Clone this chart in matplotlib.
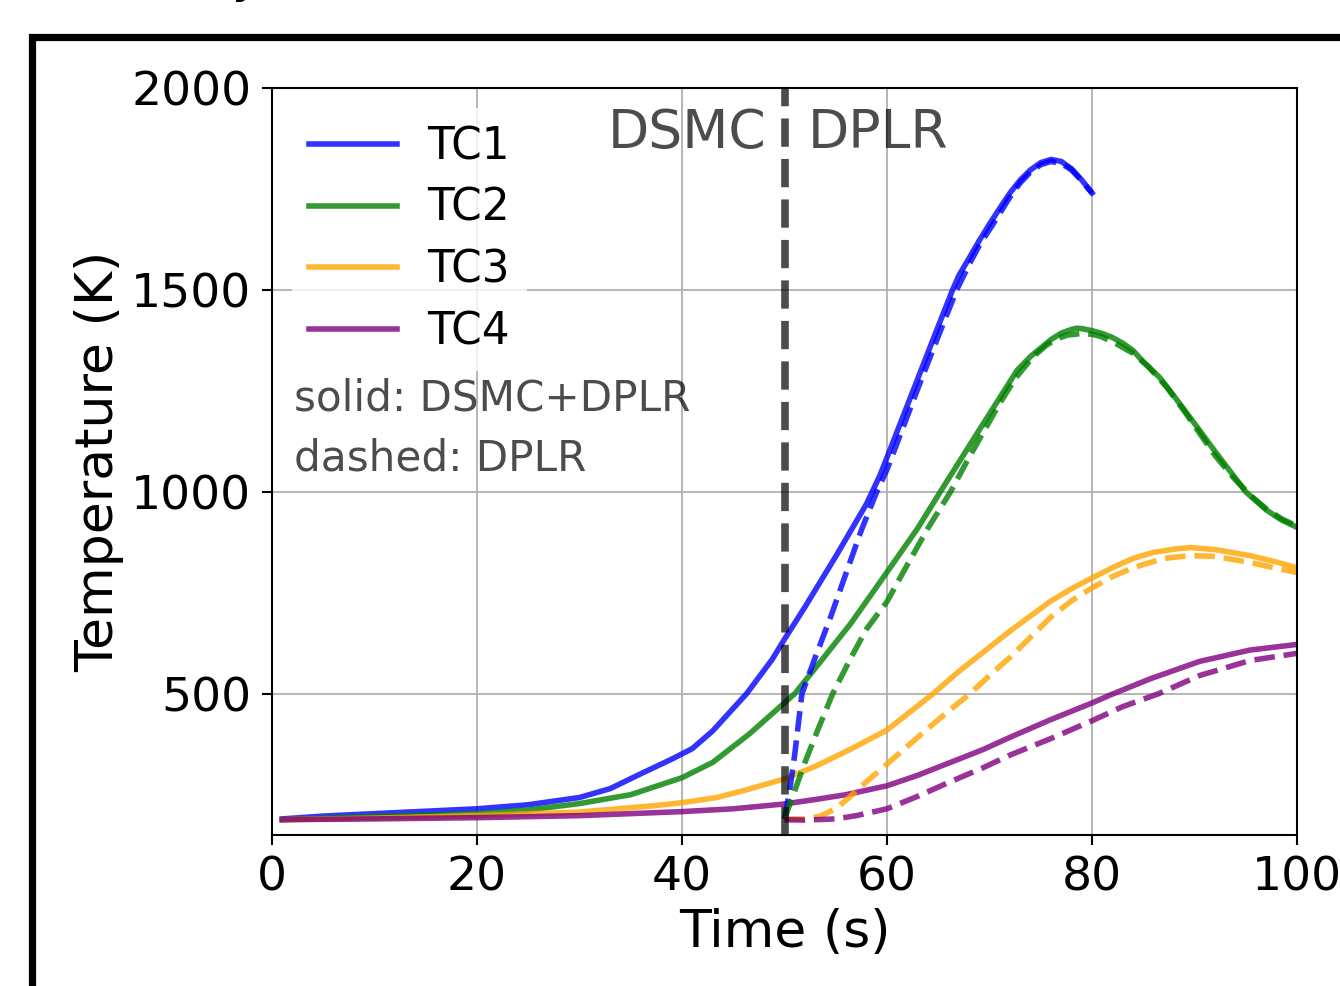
import matplotlib
matplotlib.use("Agg")
import matplotlib.pyplot as plt
from matplotlib.patches import Rectangle

# TC1 (blue)
tc1_x = [1, 5, 10, 15, 20, 25, 30, 33, 36, 39, 41, 43, 46.3, 48.8, 50, 52, 55, 58, 59.3, 60, 63, 65, 66.4,
         67, 68, 69, 70, 71, 72, 73, 74, 75, 76, 77, 78, 79, 80]
tc1_t = [190, 197, 203, 209, 215, 225, 243, 265, 302, 338, 364, 408, 500, 585, 635, 715, 840, 970, 1040, 1085, 1280, 1410, 1500,
         1535, 1578, 1622, 1663, 1702, 1740, 1772, 1797, 1815, 1823, 1818, 1800, 1772, 1740]
tc1_dx = [50, 50.5, 51, 51.7, 53, 54.5, 56.1, 57.5, 59, 60, 63, 65, 66.8, 68, 69, 70.4, 72, 73, 74, 75, 76, 77, 78, 79, 80]
tc1_dt = [190, 260, 350, 500, 590, 690, 805, 905, 1000, 1055, 1255, 1385, 1500, 1562, 1610, 1665, 1730, 1765, 1792, 1810, 1818, 1813, 1797, 1770, 1740]

# TC2 (green)
tc2_x = [1, 10, 20, 25, 30, 35, 40, 43, 46.6, 51, 53, 56.5, 60, 63, 65.2, 69.4, 72.7, 74, 75.2, 76, 77, 78, 78.5, 79,
         80, 81, 82, 83, 84, 85, 86.6, 88, 90.5, 92, 93.5, 95, 97, 98.5, 100]
tc2_t = [188, 196, 203, 212, 228, 250, 292, 330, 401, 500, 563, 675, 801, 910, 1000, 1169, 1301, 1335, 1360, 1377, 1393, 1402, 1405, 1404,
         1399, 1392, 1382, 1368, 1350, 1322, 1283, 1237, 1152, 1100, 1050, 1000, 955, 930, 912]
tc2_dx = [50, 51, 52, 53, 54.7, 56.5, 58, 60, 62, 64, 66.2, 68, 71, 72.5, 74.2, 75.5, 76.5, 77.6, 79, 80, 80.8, 82, 84, 85.5,
          87.3, 89, 90.5, 92, 93.8, 95.5, 97, 98.5, 100]
tc2_dt = [190, 260, 330, 395, 500, 590, 660, 728, 820, 910, 1000, 1085, 1219, 1280, 1333, 1362, 1378, 1388, 1392, 1390, 1385, 1372, 1343, 1310,
          1259, 1200, 1145, 1090, 1035, 990, 958, 933, 915]

# TC3 (orange)
tc3_x = [1, 10, 20, 30, 37, 40, 43.4, 46, 50, 53, 56.4, 60, 62, 64.5, 67, 69.4, 72, 75.9, 78, 80.1, 82, 84, 86, 88, 89.6, 92, 95.4, 98, 100]
tc3_t = [188, 192, 198, 207, 222, 230, 243, 260, 289, 320, 362, 410, 450, 500, 555, 603, 655, 728, 760, 788, 812, 835, 850, 858, 862, 857, 842, 826, 812]
tc3_dx = [50, 52, 53.5, 55, 56.4, 58, 60, 62, 64, 66, 68.1, 70, 72, 74, 76, 78, 80, 82, 84, 87, 89.6, 92, 95.4, 100]
tc3_dt = [190, 190, 197, 215, 245, 282, 326, 370, 414, 457, 500, 545, 590, 640, 690, 730, 762, 790, 812, 835, 842, 840, 825, 800]

# TC4 (purple)
tc4_x = [1, 10, 20, 30, 37, 40, 45, 50, 53, 56, 60, 63, 66, 69.4, 72, 75.9, 80, 81.8, 85.7, 90.5, 95.4, 100]
tc4_t = [188, 190, 193, 198, 205, 208, 215, 227, 238, 250, 272, 298, 328, 362, 392, 435, 477, 497, 537, 580, 608, 622]
tc4_dx = [50, 52, 55, 57, 60, 62.9, 66, 69.4, 72, 75.9, 80, 83, 86.5, 90.5, 95.4, 100]
tc4_dt = [188, 187, 190, 198, 215, 245, 280, 317, 348, 388, 433, 468, 500, 545, 582, 600]

labels = ["TC1", "TC2", "TC3", "TC4"]
colors = ["blue", "green", "orange", "purple"]

solid = [(tc1_x, tc1_t), (tc2_x, tc2_t), (tc3_x, tc3_t), (tc4_x, tc4_t)]
dashed = [(tc1_dx, tc1_dt), (tc2_dx, tc2_dt), (tc3_dx, tc3_dt), (tc4_dx, tc4_dt)]

fig = plt.figure(figsize=(13.4, 9.86), dpi=100)
ax = fig.add_axes([0.2030, 0.1531, 0.7649, 0.7577])

for (x, t), lab, c in zip(solid, labels, colors):
    ax.plot(x, t, color=c, alpha=0.8, lw=4, label=lab)
for (x, t), c in zip(dashed, colors):
    ax.plot(x, t, color=c, alpha=0.8, lw=4, ls="--")

ax.axvline(50, color="k", alpha=0.7, lw=5.5, ls="--")

ax.set_xlim(0, 100)
ax.set_ylim(150, 2000)
ax.set_xticks([0, 20, 40, 60, 80, 100])
ax.set_yticks([500, 1000, 1500, 2000])
ax.tick_params(labelsize=34, length=7, width=1.5, pad=8)
ax.grid(True, color="#b0b0b0", lw=1.3)
for s in ax.spines.values():
    s.set_linewidth(1.5)

ax.set_xlabel("Time (s)", fontsize=37.5)
ax.set_ylabel("Temperature (K)", fontsize=37.5)
ax.xaxis.set_label_coords(0.5, -0.098)
ax.yaxis.set_label_coords(-0.144, 0.5)

leg = ax.legend(loc="upper left", fontsize=31.5, framealpha=0.8,
                labelspacing=0.43, handletextpad=0.69, borderaxespad=0.45)
leg.get_frame().set_edgecolor("none")

ax.text(0.482, 0.9197, "DSMC", transform=ax.transAxes, ha="right", va="baseline",
        fontsize=38.5, color="k", alpha=0.7)
ax.text(0.523, 0.9197, "DPLR", transform=ax.transAxes, ha="left", va="baseline",
        fontsize=38.5, color="k", alpha=0.7)
ax.text(0.0215, 0.5676, "solid: DSMC+DPLR", transform=ax.transAxes, va="baseline",
        fontsize=30.3, color="k", alpha=0.7)
ax.text(0.0215, 0.4873, "dashed: DPLR", transform=ax.transAxes, va="baseline",
        fontsize=30.3, color="k", alpha=0.7)

# thick frame around the panel (runs off the right and bottom edges)
fig.patches.append(Rectangle((0.02425, -0.5), 2.0, 1.4625, transform=fig.transFigure,
                             fill=False, edgecolor="k", lw=5.2))
# tail of a title letter cut off at the top
fig.text(0.173, 1.008, "y", fontsize=36, va="baseline")

fig.savefig("out.png", dpi=100)
